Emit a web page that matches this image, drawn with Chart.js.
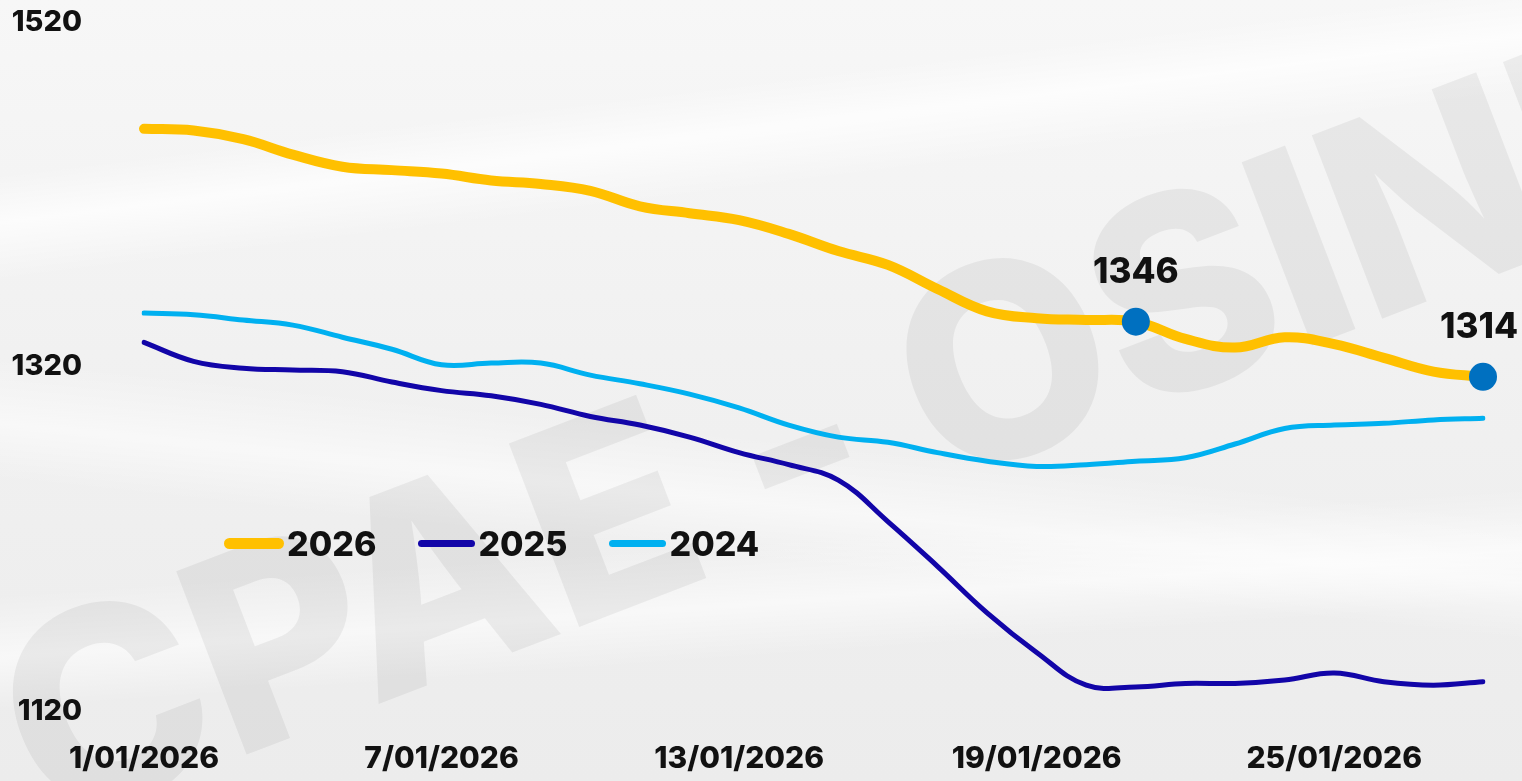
<!DOCTYPE html>
<html>
<head>
<meta charset="utf-8">
<script src="https://cdn.jsdelivr.net/npm/chart.js@4.4.1/dist/chart.umd.min.js"></script>
<style>
  html, body { margin: 0; padding: 0; }
  body {
    width: 1522px; height: 781px; overflow: hidden; position: relative;
    font-family: Inter, "Open Sans", sans-serif;
    background:
      linear-gradient(173deg, rgba(255,255,255,0) 18%, rgba(255,255,255,0.75) 23%, rgba(255,255,255,0) 29%),
      linear-gradient(186deg, rgba(255,255,255,0) 55%, rgba(255,255,255,0.55) 62%, rgba(255,255,255,0) 68%),
      linear-gradient(-4deg, rgba(255,255,255,0) 20%, rgba(255,255,255,0.6) 26%, rgba(255,255,255,0) 33%),
      linear-gradient(180deg, #f7f7f7 0%, #f1f1f1 45%, #ececec 100%);
  }
  .watermark {
    position: absolute; left: 70px; top: 565px;
    font-size: 270px; font-weight: 800; color: rgba(0,0,0,0.055);
    white-space: nowrap; transform-origin: 0 100%; transform: rotate(-21deg);
    letter-spacing: -2px; pointer-events: none;
  }
  #wrap { position: absolute; left: 0; top: 0; width: 1522px; height: 781px; }
  .legend {
    position: absolute; left: 224px; top: 522px; height: 42px;
    display: flex; align-items: center;
  }
  .legend .item { display: flex; align-items: center; margin-right: 42px; }
  .legend .sw { display: inline-block; border-radius: 6px; margin-right: 3px; }
  .legend .lt { font-size: 34px; font-weight: 800; color: #111; }
</style>
</head>
<body>
<div class="watermark">CPAE - OSINERGMIN</div>
<div id="wrap"><canvas id="chart"></canvas></div>
<div class="legend" id="legend"></div>
<script>
// Categories (days of January 2026)
const days = [
  '1/01/2026', '2/01/2026', '3/01/2026', '4/01/2026', '5/01/2026', '6/01/2026', '7/01/2026',
  '8/01/2026', '9/01/2026', '10/01/2026', '11/01/2026', '12/01/2026', '13/01/2026', '14/01/2026',
  '15/01/2026', '16/01/2026', '17/01/2026', '18/01/2026', '19/01/2026', '20/01/2026', '21/01/2026',
  '22/01/2026', '23/01/2026', '24/01/2026', '25/01/2026', '26/01/2026', '27/01/2026', '28/01/2026'
];

// Series values
const values2026 = [1458, 1457, 1452, 1443, 1436, 1434, 1432, 1428, 1426, 1422, 1413, 1409, 1405, 1397,
                    1387, 1379, 1365, 1352, 1348, 1347, 1346, 1336, 1331, 1337, 1333, 1325, 1317, 1314];
const values2025 = [1334, 1323, 1319, 1318, 1317, 1311, 1306, 1303, 1298, 1291, 1286, 1279, 1270, 1263,
                    1254, 1230, 1204, 1177, 1154, 1135, 1134, 1136, 1136, 1138, 1142, 1137, 1135, 1137];
const values2024 = [1351, 1350, 1347, 1344, 1337, 1330, 1321, 1322, 1322, 1315, 1310, 1304, 1296, 1286,
                    1279, 1276, 1270, 1265, 1262, 1263, 1265, 1267, 1275, 1284, 1286, 1287, 1289, 1290];

const seriesNames = ['2026', '2025', '2024'];
const yTicks = [1120, 1320, 1520];
const labelledIdx = [20, 27];   // points of 2026 that carry a marker + value

const colors = ['#FFC000', '#1205A8', '#00B0F0'];
const markerColor = '#0070C0';

// values above the marked points
const pointLabels = {
  id: 'pointLabels',
  afterDatasetsDraw(chart) {
    const ctx = chart.ctx;
    const meta = chart.getDatasetMeta(0);
    ctx.save();
    ctx.font = '800 35px Inter';
    ctx.fillStyle = '#111';
    ctx.textAlign = 'center';
    ctx.textBaseline = 'alphabetic';
    labelledIdx.forEach(i => {
      const p = meta.data[i];
      const txt = String(values2026[i]);
      const w = ctx.measureText(txt).width;
      const x = Math.min(p.x, chart.width - w / 2 - 4);
      ctx.fillText(txt, x, p.y - 39);
    });
    ctx.restore();
  }
};

const chart = new Chart(document.getElementById('chart'), {
  type: 'line',
  data: {
    labels: days,
    datasets: [
      {
        label: seriesNames[0], data: values2026,
        borderColor: colors[0], borderWidth: 10, tension: 0.4,
        borderCapStyle: 'round', borderJoinStyle: 'round',
        pointRadius: ctx => labelledIdx.includes(ctx.dataIndex) ? 14 : 0,
        pointBackgroundColor: markerColor, pointBorderColor: markerColor, pointBorderWidth: 0,
        pointHoverRadius: 0
      },
      {
        label: seriesNames[1], data: values2025,
        borderColor: colors[1], borderWidth: 5, tension: 0.4,
        borderCapStyle: 'round', borderJoinStyle: 'round', pointRadius: 0
      },
      {
        label: seriesNames[2], data: values2024,
        borderColor: colors[2], borderWidth: 5, tension: 0.4,
        borderCapStyle: 'round', borderJoinStyle: 'round', pointRadius: 0
      }
    ]
  },
  options: {
    responsive: true,
    maintainAspectRatio: false,
    animation: false,
    layout: { padding: { left: 0, right: 39, top: 22, bottom: 4 } },
    plugins: { legend: { display: false }, tooltip: { enabled: false } },
    scales: {
      x: {
        offset: false,
        afterFit: s => { s.height = 66; s.paddingLeft = 0; s.paddingRight = 0; },
        grid: { display: false, drawTicks: false },
        border: { display: false },
        ticks: {
          autoSkip: false, maxRotation: 0, minRotation: 0, padding: 30,
          color: '#111', font: { family: 'Inter', size: 30, weight: '800' },
          callback: (v, i) => i % 6 === 0 ? days[i] : ''
        }
      },
      y: {
        min: yTicks[0], max: yTicks[yTicks.length - 1],
        afterFit: s => { s.width = 144; s.paddingTop = 0; s.paddingBottom = 0; },
        afterBuildTicks: s => { s.ticks = yTicks.map(v => ({ value: v })); },
        grid: { display: false, drawTicks: false },
        border: { display: false },
        ticks: {
          padding: 62, color: '#111', font: { family: 'Inter', size: 29, weight: '800' },
          callback: v => String(v)
        }
      }
    }
  },
  plugins: [pointLabels]
});

// legend built from the datasets
const legend = document.getElementById('legend');
chart.data.datasets.forEach(ds => {
  const item = document.createElement('div');
  item.className = 'item';
  const sw = document.createElement('span');
  sw.className = 'sw';
  sw.style.background = ds.borderColor;
  sw.style.width = ds.borderWidth > 6 ? '60px' : '57px';
  sw.style.height = (ds.borderWidth > 6 ? 11 : 7) + 'px';
  const lt = document.createElement('span');
  lt.className = 'lt';
  lt.textContent = ds.label;
  item.appendChild(sw);
  item.appendChild(lt);
  legend.appendChild(item);
});
</script>
</body>
</html>
